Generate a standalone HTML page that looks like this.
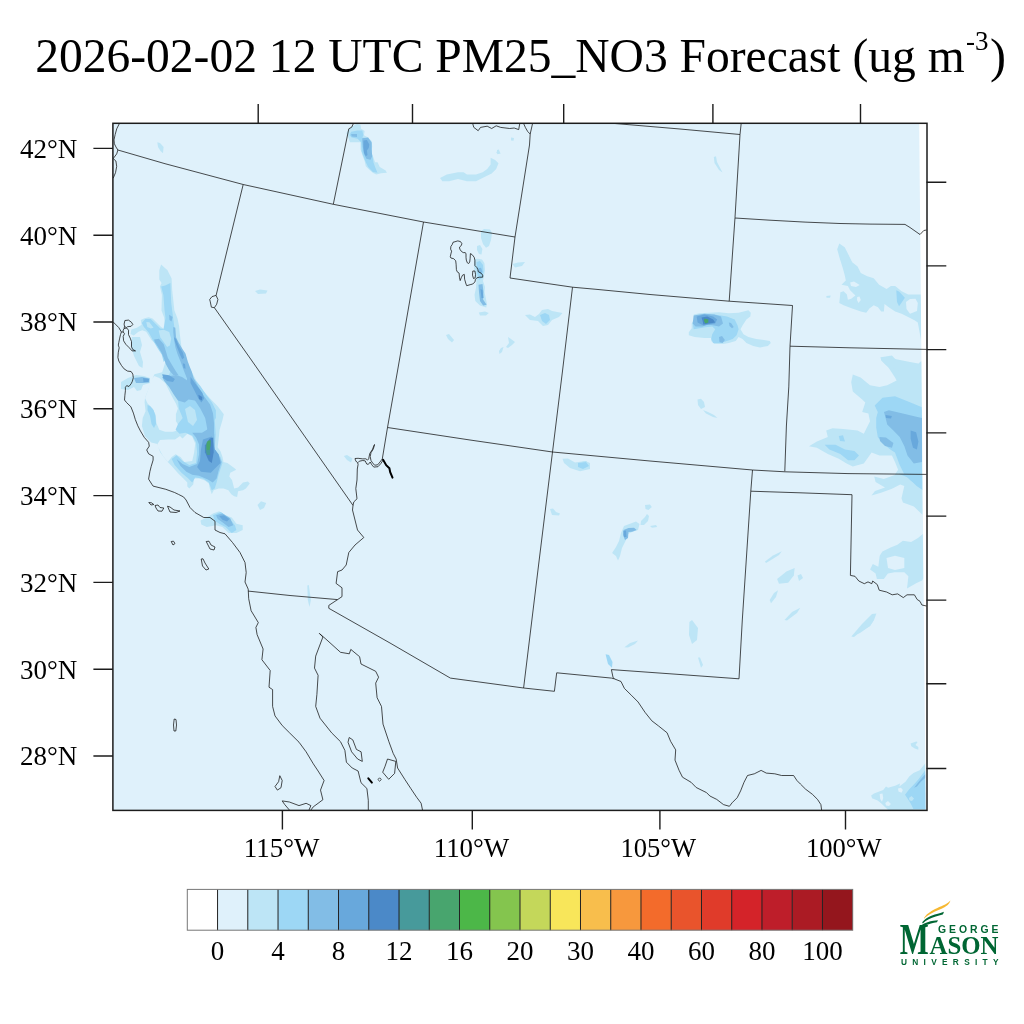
<!DOCTYPE html>
<html><head><meta charset="utf-8"><title>PM25_NO3 Forecast</title><style>
html,body{margin:0;padding:0;background:#fff;}
svg{display:block;}
text{font-family:"Liberation Serif","Times New Roman",serif;fill:#000;}
</style></head><body>
<svg width="1024" height="1024" viewBox="0 0 1024 1024">

<text x="35.2" y="71.6" font-size="48" textLength="929.5" lengthAdjust="spacingAndGlyphs">2026-02-02 12 UTC PM25_NO3 Forecast (ug m</text>
<text x="966" y="49.8" font-size="27">-3</text>
<text x="990" y="71.6" font-size="48">)</text>
<defs><clipPath id="mc"><rect x="113" y="123" width="814" height="687.5"/></clipPath></defs>
<rect x="113" y="123" width="814" height="687.5" fill="#dff1fb"/>
<g clip-path="url(#mc)">
<path d="M161.1 264.4 L167.5 270.2 L171.6 278.4 L172.2 290.2 L174.4 310.6 L177.5 318.4 L179.1 326.2 L179.8 334.0 L181.8 349.8 L186.6 357.6 L190.5 369.3 L196.4 381.0 L203.2 390.8 L210.1 398.6 L217.9 406.4 L223.8 414.2 L222.5 420.0 L219.6 429.8 L218.6 439.5 L217.6 447.3 L220.5 451.2 L222.5 457.1 L223.5 462.0 L227.4 463.0 L234.2 467.9 L236.2 469.8 L230.3 472.7 L229.3 476.6 L232.0 480.0 L234.2 488.4 L238.1 487.4 L243.0 482.5 L247.9 481.5 L249.8 483.5 L245.9 488.4 L243.0 490.3 L238.1 491.3 L237.1 497.1 L234.2 496.2 L231.3 494.2 L228.4 490.3 L223.5 488.4 L218.6 488.4 L213.7 490.3 L211.8 494.2 L209.8 488.4 L208.8 483.5 L204.9 480.5 L199.1 478.6 L194.2 478.6 L193.2 484.5 L189.3 488.4 L187.3 486.4 L187.3 482.5 L183.4 478.6 L177.6 472.7 L171.7 465.9 L167.8 462.0 L160.0 452.0 L157.5 444.0 L151.2 442.5 L145.0 436.2 L141.9 426.0 L142.7 418.1 L145.6 411.3 L144.6 402.5 L145.0 398.0 L154.4 374.2 L162.2 372.2 L165.2 362.5 L163.2 354.6 L159.3 347.8 L151.5 340.0 L146.2 331.7 L142.3 330.2 L138.4 331.7 L133.8 335.6 L130.6 334.0 L131.4 329.4 L136.9 327.8 L141.6 324.7 L140.8 320.0 L143.9 318.4 L148.6 317.3 L152.5 318.4 L161.1 327.0 L165.0 329.4 L164.2 317.7 L161.5 310.6 L161.9 295.0 L159.9 286.6 L161.6 283.1 L159.3 279.6 L159.3 270.2Z" fill="#bde5f6"/>
<path d="M154.4 376.0 L159.3 378.1 L165.2 383.0 L168.1 388.8 L172.0 396.6 L175.9 403.5 L177.9 408.4 L175.9 414.2 L175.9 421.0 L178.8 425.9 L179.8 429.8 L173.0 431.8 L165.2 431.8 L159.3 429.8 L156.4 423.0 L155.4 414.2 L152.5 408.4 L147.6 403.5 L145.0 398.0 L148.0 390.0 L151.0 380.0Z" fill="#dff1fb"/>
<path d="M160.0 440.0 L168.0 439.5 L175.0 439.5 L180.0 436.0 L182.5 438.5 L187.3 433.7 L192.2 436.6 L195.2 443.4 L194.2 452.2 L192.2 461.0 L184.4 462.0 L180.5 457.1 L175.6 454.2 L171.7 457.1 L167.8 462.0 L163.0 456.0 L158.0 447.0 L157.5 444.0Z" fill="#dff1fb"/>
<path d="M132.0 337.0 L140.0 337.0 L142.0 345.0 L140.0 352.0 L143.0 362.0 L142.5 368.0 L139.0 366.0 L134.0 356.0 L131.0 346.0Z" fill="#bde5f6"/>
<path d="M121.0 382.0 L128.0 378.0 L136.0 375.0 L144.0 376.0 L150.0 378.0 L150.0 383.0 L143.0 385.0 L141.0 390.0 L137.0 391.0 L134.0 387.0 L128.0 390.0 L121.0 389.0Z" fill="#bde5f6"/>
<path d="M134.0 378.0 L142.0 377.0 L149.5 378.5 L149.0 382.5 L143.0 383.0 L136.0 383.0Z" fill="#82bde6"/>
<path d="M143.0 378.0 L149.0 379.0 L148.5 382.0 L143.5 382.0Z" fill="#68a8dc"/>
<path d="M170.4 283.1 L171.2 302.8 L172.8 315.3 L174.4 327.8 L174.9 340.0 L180.8 351.7 L184.7 359.5 L188.6 368.3 L192.5 377.1 L200.3 385.9 L206.2 394.7 L212.0 402.5 L215.9 410.3 L215.9 418.1 L214.7 420.0 L215.7 434.6 L214.7 449.3 L220.5 457.1 L222.5 463.0 L220.5 468.8 L218.6 474.7 L216.6 482.5 L214.7 488.4 L211.8 490.3 L208.8 482.5 L203.0 478.6 L195.2 477.6 L192.2 482.5 L188.3 478.6 L181.5 472.7 L174.6 464.9 L171.7 459.1 L176.6 455.2 L182.5 461.0 L189.3 464.9 L196.1 463.0 L197.1 452.2 L196.1 442.5 L192.2 435.6 L185.4 432.7 L179.5 433.7 L175.6 429.8 L178.0 424.0 L182.7 418.1 L178.8 408.4 L177.9 398.6 L174.9 388.8 L173.0 381.0 L169.1 375.2 L171.0 369.3 L166.1 359.5 L163.7 361.9 L161.7 354.4 L157.6 348.3 L152.8 340.1 L148.7 332.6 L143.9 327.1 L141.8 323.0 L145.3 318.9 L150.7 318.9 L155.5 323.7 L160.3 328.5 L163.5 329.0 L165.5 318.0 L164.5 310.0 L163.4 295.0 L161.1 286.6 L165.2 285.5Z" fill="#9dd7f5"/>
<path d="M158.6 330.5 L163.7 329.8 L169.2 331.9 L171.2 338.7 L169.9 345.5 L167.1 346.9 L163.7 342.1 L160.3 337.3Z" fill="#bde5f6"/>
<path d="M146.3 322.0 L149.4 322.3 L153.5 327.8 L150.7 328.5 L147.3 327.1Z" fill="#bde5f6"/>
<path d="M185.0 409.0 L190.0 406.0 L195.0 410.0 L197.0 420.0 L193.0 426.0 L188.0 422.0Z" fill="#bde5f6"/>
<path d="M169.2 314.8 L172.6 317.0 L171.5 321.6 L169.5 320.0Z" fill="#82bde6"/>
<path d="M154.1 339.4 L158.9 338.7 L163.7 344.2 L165.8 351.0 L167.8 357.8 L171.9 364.7 L176.0 371.5 L178.7 375.6 L173.3 374.9 L169.2 370.2 L165.8 364.0 L163.7 357.8 L161.0 351.7 L157.6 346.2 L154.8 342.1Z" fill="#82bde6"/>
<path d="M173.3 327.1 L175.3 327.8 L176.0 337.3 L178.7 342.8 L182.8 349.6 L185.6 353.7 L187.6 361.3 L189.7 366.7 L191.7 371.5 L193.8 378.4 L198.4 386.9 L204.2 396.6 L210.1 404.5 L213.0 413.2 L214.0 423.0 L214.0 440.0 L208.1 440.0 L207.1 427.9 L205.2 418.1 L200.3 408.4 L196.0 402.0 L191.0 395.0 L187.0 386.0 L187.0 378.4 L184.2 371.5 L182.2 366.0 L180.1 360.6 L177.4 353.7 L175.3 346.9 L174.0 338.7 L173.3 332.6Z" fill="#82bde6"/>
<path d="M162.2 377.0 L170.0 376.0 L176.0 375.0 L182.0 377.0 L188.0 381.0 L194.0 388.0 L198.4 394.0 L200.0 399.0 L195.0 400.5 L188.6 399.5 L184.7 402.5 L177.9 400.5 L173.9 394.7 L169.1 386.9 L164.2 381.0Z" fill="#82bde6"/>
<path d="M147.5 405.0 L150.0 406.0 L153.5 410.0 L155.5 416.0 L156.0 424.0 L154.0 428.0 L151.5 424.0 L150.0 416.0 L147.5 410.0Z" fill="#9dd7f5"/>
<path d="M192.2 432.7 L202.0 432.7 L206.9 429.8 L212.7 424.9 L214.2 434.6 L214.7 449.3 L218.6 455.2 L221.5 462.0 L218.6 470.8 L216.6 478.6 L212.7 482.5 L207.9 479.6 L199.1 475.7 L192.2 474.7 L186.4 471.8 L180.5 465.9 L176.6 459.1 L182.5 463.9 L189.3 466.9 L197.1 463.9 L199.1 454.2 L199.1 444.4 L196.1 437.6Z" fill="#82bde6"/>
<path d="M162.2 374.2 L169.1 375.2 L174.9 379.1 L173.0 382.0 L167.1 381.0 L163.2 378.1Z" fill="#68a8dc"/>
<path d="M190.5 377.1 L196.4 384.9 L202.3 392.7 L204.2 398.6 L201.3 402.5 L198.4 398.6 L194.5 390.8 L190.5 383.0Z" fill="#68a8dc"/>
<path d="M174.0 337.3 L176.0 338.7 L179.4 346.9 L182.8 352.4 L184.2 357.8 L182.2 359.2 L180.1 355.1 L177.4 348.3 L175.0 342.1Z" fill="#68a8dc"/>
<path d="M182.8 363.3 L185.0 364.0 L185.6 368.8 L183.5 368.0Z" fill="#68a8dc"/>
<path d="M203.0 439.5 L211.8 436.6 L214.7 449.3 L218.6 454.2 L220.5 463.0 L214.7 468.8 L210.8 472.7 L201.0 471.8 L197.1 466.9 L200.0 461.0 L201.0 449.3Z" fill="#68a8dc"/>
<path d="M204.9 445.4 L209.8 438.6 L213.2 437.6 L213.7 452.2 L211.8 463.0 L208.8 461.0 L204.9 452.2Z" fill="#4b89c8"/>
<path d="M198.4 394.7 L202.3 397.0 L202.0 400.5 L199.0 399.0Z" fill="#4b89c8"/>
<path d="M205.4 447.5 L207.5 447.2 L210.1 447.5 L210.1 454.9 L207.0 454.9 L205.8 451.0Z" fill="#479a9b"/>
<path d="M206.9 442.0 L208.5 440.5 L210.7 440.3 L210.5 446.0 L209.5 450.0 L207.0 450.0 L206.2 446.0Z" fill="#48a56e"/>
<path d="M157.3 142.2 L160.0 143.0 L163.6 147.0 L163.0 153.2 L160.5 151.0 L158.0 147.0Z" fill="#bde5f6"/>
<path d="M255.0 291.0 L260.0 289.5 L267.5 290.5 L266.0 293.5 L258.0 294.0Z" fill="#bde5f6"/>
<path d="M200.5 520.6 L206.8 517.5 L213.0 513.6 L219.2 511.2 L225.5 515.2 L231.8 517.5 L236.4 523.8 L242.7 525.3 L242.7 530.0 L236.4 533.1 L228.6 533.1 L222.4 526.9 L216.1 525.3 L206.8 526.9 L201.3 524.5Z" fill="#bde5f6"/>
<path d="M213.0 515.2 L220.8 512.0 L228.6 517.5 L234.9 525.3 L236.4 530.0 L231.8 533.1 L225.5 526.9 L219.2 523.8 L214.6 520.6Z" fill="#9dd7f5"/>
<path d="M216.1 515.2 L222.4 513.6 L230.2 518.3 L233.3 525.3 L228.6 526.9 L222.4 522.2 L217.7 519.0Z" fill="#82bde6"/>
<path d="M219.2 516.0 L224.0 515.2 L229.4 519.0 L227.0 521.4 L222.4 519.8Z" fill="#68a8dc"/>
<path d="M257.5 505.0 L261.0 501.2 L266.2 503.0 L264.0 508.0 L260.0 510.0Z" fill="#bde5f6"/>
<path d="M343.8 456.0 L347.0 455.0 L352.5 458.5 L351.0 462.5 L347.0 460.0Z" fill="#bde5f6"/>
<path d="M307.3 585.6 L308.8 585.0 L310.9 600.0 L309.5 607.1 L307.8 600.0Z" fill="#bde5f6"/>
<path d="M357.0 124.1 L360.5 124.7 L361.1 128.8 L364.6 131.1 L364.0 135.2 L368.1 137.6 L371.6 141.1 L372.2 146.4 L371.6 152.8 L373.4 157.5 L375.1 162.2 L377.5 162.2 L379.8 166.9 L385.7 170.4 L386.9 172.7 L381.0 173.3 L376.3 174.5 L372.8 172.7 L369.3 169.8 L365.8 166.3 L364.6 161.0 L362.3 155.1 L360.5 149.3 L360.5 142.3 L354.6 142.3 L350.0 142.3 L348.8 138.7 L346.4 132.9 L349.4 128.8 L352.9 125.9Z" fill="#bde5f6"/>
<path d="M351.1 131.7 L357.6 130.5 L362.3 130.5 L363.4 135.2 L362.3 137.6 L367.5 138.2 L371.6 143.4 L371.6 152.8 L372.8 157.5 L373.4 162.2 L375.1 166.9 L377.5 172.7 L372.8 172.1 L368.1 166.9 L365.8 162.2 L363.4 156.3 L361.7 151.6 L361.1 142.3 L357.6 138.7 L351.7 137.6 L349.4 135.2Z" fill="#9dd7f5"/>
<path d="M351.1 134.1 L357.0 134.1 L357.0 137.0 L351.7 136.4Z" fill="#82bde6"/>
<path d="M362.3 138.2 L368.1 137.6 L371.6 142.3 L371.6 149.3 L372.2 156.3 L370.5 159.8 L366.4 158.7 L364.0 154.0 L362.8 146.9 L362.3 141.1Z" fill="#82bde6"/>
<path d="M363.4 140.5 L366.9 139.9 L369.3 144.6 L368.7 148.1 L366.9 150.5 L367.5 155.1 L365.8 156.3 L364.0 152.8 L363.4 146.9Z" fill="#68a8dc"/>
<path d="M440.0 177.9 L446.8 174.5 L458.0 172.3 L463.6 172.3 L467.0 174.5 L476.0 174.5 L482.7 172.3 L487.2 168.9 L490.6 164.4 L490.6 157.7 L495.1 160.0 L498.5 163.3 L496.2 168.9 L491.7 173.4 L485.0 176.8 L476.0 181.3 L467.0 181.3 L458.0 179.0 L449.0 181.3 L442.3 181.3Z" fill="#bde5f6"/>
<path d="M496.2 152.0 L499.0 151.0 L500.7 153.5 L497.5 154.3Z" fill="#bde5f6"/>
<path d="M511.0 137.5 L514.0 138.0 L513.5 140.8 L511.0 140.5Z" fill="#bde5f6"/>
<path d="M481.0 231.0 L484.0 229.0 L490.0 229.5 L492.0 233.0 L491.0 240.0 L489.0 246.0 L486.0 247.8 L483.0 244.0 L481.0 238.0Z" fill="#bde5f6"/>
<path d="M477.0 246.0 L480.0 245.0 L482.4 249.0 L481.5 254.6 L479.0 254.0 L477.0 250.0Z" fill="#bde5f6"/>
<path d="M474.5 259.0 L478.0 258.7 L482.0 259.5 L484.4 263.0 L485.0 270.0 L484.0 276.0 L483.0 281.0 L485.0 287.0 L484.5 292.0 L487.0 304.0 L486.2 307.5 L480.0 305.6 L475.3 300.9 L474.5 294.7 L476.0 288.0 L476.5 281.0 L474.9 275.0 L474.0 267.0Z" fill="#bde5f6"/>
<path d="M476.5 262.0 L480.0 261.0 L483.0 265.0 L483.5 272.0 L482.0 278.0 L479.0 280.0 L477.0 273.0Z" fill="#9dd7f5"/>
<path d="M478.3 268.3 L481.0 267.8 L482.4 271.5 L481.5 273.7 L479.0 272.5Z" fill="#82bde6"/>
<path d="M478.5 284.7 L482.5 284.0 L483.5 292.0 L483.1 299.4 L486.6 304.8 L483.1 305.6 L480.0 300.9 L479.0 292.0Z" fill="#82bde6"/>
<path d="M480.5 289.0 L482.5 290.0 L483.5 298.0 L481.5 298.0Z" fill="#68a8dc"/>
<path d="M478.8 312.5 L485.0 311.5 L488.8 313.0 L486.0 315.5 L480.0 315.5Z" fill="#bde5f6"/>
<path d="M525.0 315.0 L530.0 314.5 L535.0 317.0 L539.0 314.0 L542.0 310.0 L548.0 309.0 L552.0 311.0 L562.5 313.0 L559.0 317.0 L552.0 320.0 L548.0 325.0 L543.0 326.0 L538.0 321.0 L530.0 320.0Z" fill="#bde5f6"/>
<path d="M540.0 315.0 L545.0 313.0 L549.0 315.0 L550.0 320.0 L546.0 324.0 L542.0 321.0Z" fill="#9dd7f5"/>
<path d="M446.0 335.0 L449.0 334.0 L454.0 340.0 L452.0 342.5 L448.0 339.0Z" fill="#bde5f6"/>
<path d="M508.0 337.0 L511.0 339.0 L515.0 342.0 L512.0 345.0 L508.0 348.0 L506.0 347.0 L509.0 343.0Z" fill="#bde5f6"/>
<path d="M501.0 348.0 L503.5 347.0 L502.0 352.0 L499.5 354.0 L499.0 351.0Z" fill="#bde5f6"/>
<path d="M512.5 264.0 L518.0 262.5 L525.0 262.0 L522.0 266.0 L515.0 267.5Z" fill="#bde5f6"/>
<path d="M497.0 150.0 L499.0 149.5 L499.5 152.0 L497.0 152.0Z" fill="#bde5f6"/>
<path d="M693.7 314.6 L699.5 313.2 L709.3 312.7 L719.0 312.2 L728.8 313.2 L738.6 312.7 L748.4 310.3 L750.8 312.7 L750.3 316.6 L746.4 319.5 L742.5 325.4 L740.5 329.3 L743.5 334.2 L748.4 337.1 L756.2 339.1 L764.0 340.0 L769.8 341.0 L770.8 343.0 L767.9 345.9 L760.0 347.4 L753.2 345.9 L746.4 343.0 L742.5 339.1 L738.6 337.1 L735.7 341.0 L728.8 343.0 L723.0 344.0 L714.2 344.0 L711.2 341.0 L711.2 338.1 L704.4 338.1 L694.6 337.1 L688.8 335.2 L688.8 332.2 L691.7 328.3 L691.7 323.4 L693.7 319.5Z" fill="#bde5f6"/>
<path d="M746.8 330.5 L749.5 329.3 L752.3 331.5 L750.5 334.2 L747.5 333.5Z" fill="#dff1fb"/>
<path d="M692.7 323.4 L694.6 318.6 L704.4 315.6 L714.2 314.6 L721.0 315.6 L726.9 316.6 L734.7 319.5 L737.6 325.4 L738.6 329.3 L736.6 335.2 L732.7 339.1 L726.9 341.0 L721.0 343.0 L713.2 343.0 L711.2 339.1 L712.2 334.2 L715.2 329.3 L712.2 326.4 L705.4 327.3 L699.5 328.3 L693.7 329.3Z" fill="#9dd7f5"/>
<path d="M693.7 315.6 L704.4 313.7 L714.2 314.6 L721.0 316.6 L723.0 323.4 L719.0 326.4 L714.2 325.4 L708.3 324.4 L702.5 326.4 L695.6 326.4 L692.7 323.4Z" fill="#82bde6"/>
<path d="M719.0 337.0 L722.0 336.1 L724.9 340.0 L722.5 343.0 L719.5 342.0Z" fill="#82bde6"/>
<path d="M728.8 322.5 L731.0 323.0 L733.7 327.0 L732.0 328.3 L729.5 326.0Z" fill="#82bde6"/>
<path d="M696.6 316.6 L704.4 314.6 L713.2 316.6 L717.1 319.5 L715.2 323.4 L709.3 324.4 L703.4 325.4 L697.6 322.5Z" fill="#68a8dc"/>
<path d="M701.5 317.6 L707.3 316.6 L713.2 319.5 L715.2 322.5 L709.3 323.4 L703.4 324.4 L702.5 320.5Z" fill="#4b89c8"/>
<path d="M704.4 318.6 L708.3 319.5 L708.3 322.5 L705.4 323.4 L703.9 321.0Z" fill="#48a56e"/>
<path d="M713.8 157.0 L716.0 156.2 L717.0 162.0 L722.5 172.5 L719.0 170.0 L714.5 163.0Z" fill="#bde5f6"/>
<path d="M697.5 399.5 L701.0 398.8 L704.0 402.0 L705.0 407.0 L701.0 409.0 L698.0 405.0Z" fill="#bde5f6"/>
<path d="M703.0 410.0 L708.0 412.0 L714.0 415.0 L717.5 418.0 L713.0 417.0 L706.0 413.5Z" fill="#bde5f6"/>
<path d="M580.0 462.5 L586.0 461.0 L590.0 466.0 L585.0 470.0 L580.0 468.0Z" fill="#9dd7f5"/>
<path d="M645.0 505.0 L650.0 504.4 L651.8 507.0 L648.5 509.9 L645.5 509.0Z" fill="#bde5f6"/>
<path d="M641.0 521.0 L645.0 517.0 L647.0 514.0 L649.0 516.0 L648.0 521.0 L644.0 525.0 L640.5 525.0Z" fill="#bde5f6"/>
<path d="M650.0 526.0 L656.0 525.0 L657.2 527.0 L652.0 527.7Z" fill="#bde5f6"/>
<path d="M624.0 526.0 L632.0 523.0 L636.0 521.5 L639.5 524.0 L638.0 530.0 L632.0 532.0 L628.0 534.0 L626.0 540.0 L622.0 548.0 L620.0 556.0 L618.0 560.5 L616.0 556.0 L612.1 553.0 L616.0 547.0 L619.0 541.0 L621.0 533.0Z" fill="#bde5f6"/>
<path d="M623.5 530.0 L626.0 529.0 L628.5 528.0 L634.0 527.7 L636.7 530.0 L632.0 531.8 L628.5 532.0 L628.0 538.0 L625.0 540.0 L623.0 535.0Z" fill="#82bde6"/>
<path d="M623.5 531.0 L626.0 530.5 L626.5 537.0 L624.0 537.0Z" fill="#68a8dc"/>
<path d="M562.5 458.8 L568.0 458.5 L575.0 462.5 L585.0 461.0 L590.0 463.0 L590.0 469.0 L580.0 471.2 L570.0 468.0 L564.0 463.0Z" fill="#bde5f6"/>
<path d="M578.0 463.0 L586.0 462.0 L589.0 466.0 L583.0 469.0 L578.0 467.0Z" fill="#9dd7f5"/>
<path d="M550.0 509.0 L553.0 508.5 L556.0 512.0 L560.0 513.5 L559.0 515.5 L552.0 515.0Z" fill="#bde5f6"/>
<path d="M765.0 561.4 L773.0 555.5 L781.8 551.2 L779.0 555.0 L771.0 560.0 L766.0 563.0Z" fill="#bde5f6"/>
<path d="M777.1 579.0 L786.4 571.6 L794.7 568.0 L793.8 575.4 L788.2 582.8 L779.0 583.7Z" fill="#bde5f6"/>
<path d="M797.5 575.4 L801.0 574.0 L803.0 578.0 L799.0 581.0Z" fill="#bde5f6"/>
<path d="M769.7 600.0 L774.0 593.0 L778.0 590.2 L776.0 597.0 L771.0 603.2Z" fill="#bde5f6"/>
<path d="M784.5 619.9 L792.0 612.0 L800.3 607.8 L797.0 613.0 L787.0 620.5Z" fill="#bde5f6"/>
<path d="M851.3 636.6 L862.0 624.0 L872.0 614.0 L876.4 613.4 L874.0 620.0 L864.0 629.0 L854.0 637.0Z" fill="#bde5f6"/>
<path d="M853.4 635.4 L862.0 627.0 L873.9 620.0 L870.0 626.0 L860.0 633.0Z" fill="#bde5f6"/>
<path d="M689.4 622.0 L692.0 620.0 L698.0 628.0 L697.0 640.0 L692.0 644.0 L689.0 635.0Z" fill="#bde5f6"/>
<path d="M624.4 647.3 L630.0 643.0 L638.1 640.5 L635.0 644.0 L628.0 647.5Z" fill="#bde5f6"/>
<path d="M605.6 654.2 L609.0 655.0 L612.5 662.0 L612.0 667.8 L608.0 664.0Z" fill="#9dd7f5"/>
<path d="M698.0 657.6 L700.0 657.6 L703.0 665.0 L701.0 667.8Z" fill="#bde5f6"/>
<path d="M853.4 635.4 L860.0 628.0 L868.0 622.0 L873.9 620.0 L870.0 626.0Z" fill="#bde5f6"/>
<path d="M871.2 795.5 L874.0 793.4 L883.2 789.9 L886.0 786.4 L888.1 787.8 L895.1 785.7 L900.0 783.6 L899.4 786.4 L905.7 781.5 L909.2 776.5 L913.4 773.0 L919.7 770.2 L925.4 763.2 L927.0 762.0 L927.0 810.0 L888.1 810.0 L881.1 803.2 L877.6 800.4 L872.0 798.3Z" fill="#bde5f6"/>
<path d="M898.0 788.5 L901.0 787.8 L902.9 790.0 L901.5 792.7 L898.5 791.5Z" fill="#dff1fb"/>
<path d="M879.7 794.0 L882.5 793.4 L883.2 798.0 L882.0 801.8 L880.2 799.0Z" fill="#dff1fb"/>
<path d="M885.3 803.0 L888.0 801.1 L890.9 804.0 L889.0 806.0 L886.0 805.5Z" fill="#dff1fb"/>
<path d="M905.0 794.8 L909.2 789.2 L913.4 785.0 L918.3 779.4 L923.2 773.0 L927.0 768.0 L927.0 809.0 L913.4 809.0 L910.6 803.2 L907.8 799.0Z" fill="#9dd7f5"/>
<path d="M909.0 798.0 L911.5 796.0 L914.0 798.5 L912.0 801.0 L909.5 800.5Z" fill="#bde5f6"/>
<path d="M914.1 787.8 L918.3 782.2 L923.2 776.5 L927.0 772.5 L927.0 776.5 L921.1 781.5 L916.9 786.4Z" fill="#82bde6"/>
<path d="M910.6 743.5 L916.2 741.4 L917.6 742.1 L915.5 744.9 L918.3 747.0 L918.3 749.8 L914.8 748.4 L911.3 746.3Z" fill="#bde5f6"/>
<path d="M839.3 243.4 L844.7 247.2 L847.9 253.6 L852.2 262.2 L857.6 266.5 L860.8 273.0 L867.3 276.2 L873.7 278.3 L879.1 284.8 L886.6 289.1 L890.9 285.9 L895.2 285.9 L901.6 291.2 L908.1 294.5 L921.0 294.5 L921.0 340.0 L917.8 322.4 L914.5 320.2 L908.1 317.0 L901.6 313.8 L895.2 311.6 L888.8 307.3 L884.5 304.1 L883.9 311.6 L881.2 311.6 L878.0 307.3 L873.7 305.2 L869.4 308.4 L866.2 312.7 L860.8 311.6 L852.2 308.4 L843.6 305.2 L839.3 303.0 L840.4 292.3 L843.6 291.2 L846.9 294.5 L847.9 299.8 L851.2 298.8 L855.4 295.5 L850.1 290.2 L847.9 285.9 L841.5 284.8 L845.8 280.5 L844.7 275.1 L842.6 267.6 L839.3 256.9 L837.2 249.3Z" fill="#bde5f6"/>
<path d="M850.1 282.5 L854.0 281.6 L859.7 285.0 L856.0 286.9 L851.0 286.0Z" fill="#dff1fb"/>
<path d="M857.2 297.0 L859.5 296.6 L860.8 300.0 L858.5 303.0 L857.0 300.0Z" fill="#dff1fb"/>
<path d="M906.0 302.0 L910.0 299.0 L915.5 298.8 L917.8 303.0 L917.0 311.0 L910.0 313.8 L906.5 309.0Z" fill="#dff1fb"/>
<path d="M896.3 290.2 L899.0 291.5 L904.9 297.7 L901.0 303.5 L899.0 306.3 L897.0 302.0Z" fill="#9dd7f5"/>
<path d="M826.4 296.0 L830.7 295.5 L830.0 297.7 L826.5 297.7Z" fill="#bde5f6"/>
<path d="M881.0 357.2 L891.9 355.6 L898.1 361.9 L906.0 366.6 L915.3 368.1 L920.0 361.9 L922.0 361.0 L922.5 514.7 L913.9 506.5 L902.9 502.4 L901.5 498.3 L904.3 486.0 L900.2 484.6 L892.0 488.7 L881.0 492.8 L871.5 495.6 L875.0 491.0 L885.0 487.4 L875.6 481.9 L874.2 476.4 L883.8 479.1 L894.7 475.0 L898.1 469.7 L895.0 461.9 L891.9 455.6 L879.4 455.6 L871.6 452.5 L863.8 463.4 L852.8 466.6 L846.6 463.4 L838.8 458.8 L827.8 454.0 L816.9 447.8 L809.0 446.2 L816.9 441.6 L827.8 436.9 L826.2 430.6 L832.5 428.3 L843.4 429.0 L857.5 430.6 L863.8 433.8 L870.0 421.2 L868.4 413.4 L862.2 411.9 L865.3 402.5 L862.2 399.4 L852.8 391.6 L851.2 382.2 L852.8 374.4 L860.6 377.5 L870.0 385.3 L879.4 386.9 L887.2 385.3 L896.6 380.6 L895.0 377.5 L888.8 368.1 L881.0 360.3Z" fill="#bde5f6"/>
<path d="M922.8 533.9 L918.0 538.0 L911.1 542.1 L902.9 540.7 L897.4 544.8 L890.6 547.5 L882.4 551.6 L879.7 555.7 L878.3 566.7 L872.8 564.0 L870.1 569.4 L875.6 573.5 L876.9 579.0 L883.8 579.0 L887.9 573.5 L894.7 572.2 L904.3 572.2 L908.4 576.3 L907.0 588.6 L916.6 583.1 L922.1 580.4 L923.5 578.0Z" fill="#bde5f6"/>
<path d="M886.5 558.0 L895.0 555.7 L904.3 558.0 L904.3 568.0 L895.0 570.0 L888.0 568.0Z" fill="#dff1fb"/>
<path d="M898.8 473.7 L908.4 477.8 L916.6 486.0 L922.5 490.1 L922.5 474.0Z" fill="#9dd7f5"/>
<path d="M874.7 405.6 L882.5 397.8 L895.0 396.2 L910.6 402.5 L922.0 407.2 L922.0 488.4 L910.6 480.6 L904.4 474.4 L899.7 465.0 L895.0 452.5 L890.3 449.4 L882.5 443.1 L877.8 436.9 L876.2 427.5 L876.2 418.1 L877.8 411.9Z" fill="#9dd7f5"/>
<path d="M824.7 444.7 L835.6 444.7 L845.0 449.4 L854.4 451.0 L859.0 455.6 L854.4 460.3 L848.1 460.3 L840.3 454.0 L829.4 449.4Z" fill="#9dd7f5"/>
<path d="M838.8 436.0 L843.0 435.3 L845.0 441.6 L840.0 441.0Z" fill="#9dd7f5"/>
<path d="M884.0 411.9 L888.8 410.3 L902.8 413.4 L915.3 416.6 L922.0 418.0 L922.0 461.9 L913.8 463.4 L907.5 455.6 L904.4 446.2 L899.7 436.9 L893.4 430.6 L887.2 424.4 L885.6 418.1Z" fill="#82bde6"/>
<path d="M879.4 437.0 L886.0 437.5 L893.4 443.0 L892.0 447.8 L885.0 446.0 L880.0 441.0Z" fill="#82bde6"/>
<path d="M910.6 430.6 L916.1 432.2 L918.4 441.6 L916.9 449.4 L913.0 447.8 L910.6 438.4Z" fill="#68a8dc"/>
<path d="M885.6 415.0 L891.9 416.0 L891.0 418.5 L886.0 418.1Z" fill="#68a8dc"/>
<path d="M880.0 357.5 L890.0 358.0 L900.0 360.0 L910.0 362.0 L921.0 364.0 L921.0 371.0 L900.0 371.0 L885.0 364.0Z" fill="#bde5f6"/>
<polygon points="919.2,123 927,123 927,810 925.7,810" fill="#fff"/>
<g fill="none" stroke="#111" stroke-width="0.75" stroke-linejoin="round">
<path d="M117.9 150.0 L165.0 163.7 L243.2 184.5 L333.3 204.3 L423.5 222.0 L515.0 237.0"/>
<path d="M515.0 237.0 L529.5 145.0 L530.2 134.0 L532.6 123.3"/>
<path d="M472.6 123.3 L473.8 127.4 L478.2 130.7 L480.5 127.4 L487.2 126.2 L491.7 128.5 L496.2 125.8 L500.7 127.4 L509.7 128.5 L514.2 128.0 L518.7 129.6 L519.8 123.3"/>
<path d="M523.5 123.3 L525.4 127.5 L527.7 131.5 L530.2 134.0"/>
<path d="M333.3 204.3 L348.8 128.8 L351.7 127.2 L353.5 123.3"/>
<path d="M243.2 184.5 L216.1 295.4"/>
<path d="M214.4 307.7 L250.0 358.1 L353.0 505.4"/>
<path d="M423.5 222.0 L397.5 371.0 L387.5 427.5 L382.3 458.9"/>
<path d="M515.0 237.0 L510.0 278.0 L541.0 282.6 L572.5 287.2 L596.0 289.3 L650.0 294.5 L729.2 301.2 L792.5 305.5"/>
<path d="M572.5 287.2 L562.5 371.0 L552.5 452.0 L539.2 560.0 L523.6 688.0"/>
<path d="M387.5 427.5 L470.0 440.0 L552.5 452.0 L650.0 461.0 L752.5 470.0 L785.0 471.8 L848.0 473.6 L926.5 474.4"/>
<path d="M741.2 123.3 L740.0 134.5 L735.0 217.5 L729.2 301.2"/>
<path d="M612.5 123.3 L680.0 129.0 L740.0 134.5"/>
<path d="M735.0 218.0 L770.0 220.2 L805.0 222.1 L840.0 223.5 L870.0 224.1 L905.0 224.4 L910.0 227.5 L920.0 234.5 L923.8 230.5 L926.5 230.0"/>
<path d="M792.5 305.5 L790.0 346.2 L788.8 386.9 L786.4 426.0 L784.8 471.2"/>
<path d="M790.0 346.2 L850.0 347.8 L926.5 349.4"/>
<path d="M752.5 470.0 L750.8 491.2 L742.3 620.0 L739.0 678.8"/>
<path d="M750.8 491.2 L800.0 492.8 L852.0 494.7"/>
<path d="M852.0 494.7 L850.4 575.4"/>
<path d="M850.4 575.4 L855.0 576.3 L858.8 581.0 L864.3 583.7 L868.0 581.9 L871.8 583.7 L872.7 581.0 L877.3 584.6 L879.2 590.2 L886.6 592.0 L892.2 594.8 L897.7 593.9 L903.3 597.6 L907.0 594.8 L914.4 594.8 L917.2 599.5 L920.0 601.3 L921.9 605.0 L926.5 606.0"/>
<path d="M611.4 669.6 L680.0 674.5 L739.0 678.8"/>
<path d="M248.2 591.1 L290.0 595.5 L337.6 599.6"/>
<path d="M337.6 599.6 L328.8 605.4 L328.8 608.3 L390.0 643.0 L450.4 678.1 L523.6 688.0 L554.4 691.3 L556.7 672.8 L611.5 678.1 L614.2 678.8"/>
<path d="M611.4 669.6 L613.0 677.2 L614.2 678.8"/>
<path d="M614.2 678.8 L621.0 681.5 L624.4 688.4 L631.3 695.2 L638.1 702.0 L645.0 712.3 L651.8 720.8 L658.6 726.0 L667.1 732.8 L670.6 741.3 L675.7 749.9 L675.0 760.1 L679.1 770.4 L682.5 777.2 L691.1 782.3 L696.2 787.5 L706.5 792.6 L709.9 796.0 L716.7 799.4 L723.5 804.6 L729.4 806.3 L732.1 802.8 L737.2 797.7 L740.6 790.9 L744.0 782.3 L747.5 775.5 L754.3 773.8 L761.1 770.4 L766.3 773.1 L774.8 773.8 L781.6 775.5 L793.6 775.5 L797.0 780.6 L800.4 784.0 L805.6 789.2 L812.4 794.3 L817.5 799.4 L820.9 804.6 L821.6 810.0"/>
<path d="M353.0 505.4 L352.5 510.0 L355.0 520.0 L357.5 530.0 L363.8 537.5 L355.0 545.0 L348.8 552.5 L346.2 565.0 L342.0 570.0 L337.6 571.7 L336.1 583.4 L342.0 587.8 L342.0 596.6 L337.6 599.6"/>
<path d="M357.7 462.8 L358.1 464.4 L357.3 469.0 L357.0 480.0 L355.8 488.6 L357.0 498.8 L353.8 501.9 L353.0 505.4"/>
<path d="M382.3 458.9 L380.0 462.0 L377.7 464.8 L374.9 465.2 L373.0 463.6 L371.0 460.5 L370.2 456.6 L371.0 452.7 L373.4 448.8 L374.5 444.5 L372.2 449.9 L369.8 453.4 L369.1 456.6 L368.7 458.9 L367.5 460.1 L365.9 458.8 L362.8 458.9 L358.1 458.3 L355.0 458.5 L355.4 460.1 L356.6 462.0 L357.7 462.8 L359.3 461.2 L362.8 460.5 L365.2 460.9 L366.7 464.0 L368.3 464.4 L370.2 462.0 L371.8 464.8 L373.8 467.1 L378.0 466.7 L380.8 463.6 L383.1 460.1"/>
<path d="M119.5 123.3 L116.7 128.9 L115.2 134.4 L114.0 139.9 L114.4 143.8 L115.9 146.9 L117.9 150.0 L116.7 153.9 L113.2 158.6 L115.9 161.0 L116.7 166.4 L115.5 172.7 L113.2 178.2"/>
<path d="M113.1 321.9 L115.3 324.1 L118.8 327.6 L121.4 332.0 L120.5 334.6 L119.7 338.1 L118.8 342.5 L118.3 345.1 L119.2 347.8 L118.3 352.2 L117.9 357.5 L118.8 361.0 L121.4 365.4 L124.1 368.9 L127.6 371.1 L131.1 371.5 L132.8 374.1 L133.3 377.7 L132.4 381.2 L131.1 383.8 L128.9 386.5 L126.7 385.6 L125.4 387.3 L125.4 390.8 L124.9 395.2 L124.5 400.0 L126.5 402.5 L130.9 406.8 L133.4 413.1 L135.3 419.5 L137.8 425.8 L140.4 430.9 L144.2 437.3 L148.6 442.3 L149.3 446.1 L146.7 450.0 L148.6 453.8 L153.1 456.3 L153.1 460.1 L151.2 466.4 L149.9 471.5 L148.6 479.1 L151.8 484.2 L153.1 486.1 L165.8 489.3 L174.6 492.5 L178.5 494.4 L183.5 496.9 L186.1 500.0 L190.0 507.5 L195.0 512.5 L203.8 517.5 L210.0 517.5 L215.0 521.2 L215.0 530.0 L220.0 532.5 L225.0 533.8 L232.5 542.5 L240.0 552.5 L245.0 562.5 L246.2 572.5 L245.0 582.0 L248.2 589.1 L248.7 598.7 L251.1 610.7 L258.3 622.6 L255.9 627.4 L257.1 634.6 L263.1 649.0 L261.9 659.7 L270.2 670.5 L269.0 687.2 L272.6 689.6 L272.6 706.4 L275.0 715.9 L282.2 725.5 L289.4 732.7 L299.0 742.2 L306.1 751.8 L313.3 763.8 L318.1 771.0 L324.1 780.5 L320.5 790.1 L322.9 799.7 L318.1 803.3 L313.3 806.8 L310.9 810.0"/>
<path d="M124.5 326.3 L124.1 328.5"/>
<path d="M121.4 332.0 L123.2 332.0"/>
<path d="M282.2 800.9 L289.4 802.0 L299.0 805.6 L306.1 803.3 L310.9 805.6 L309.0 810.0"/>
<path d="M282.2 800.9 L284.6 804.4 L289.4 810.0"/>
<path d="M319.3 633.4 L322.9 637.0 L315.7 656.1 L314.5 668.1 L318.1 675.3 L316.9 694.4 L315.7 706.4 L320.0 718.2 L331.7 732.9 L340.5 741.7 L344.9 750.4 L346.4 762.2 L352.2 768.0 L358.1 771.0 L361.0 782.7 L366.9 788.5 L368.3 800.3 L368.3 810.0"/>
<path d="M319.3 633.4 L325.9 639.1 L340.5 652.3 L349.3 653.8 L350.8 649.4 L359.6 656.7 L361.0 664.0 L375.7 671.3 L378.6 677.2 L375.7 683.1 L377.1 697.7 L381.5 706.5 L383.0 724.1 L388.9 741.7 L393.2 753.4 L396.2 759.2 L397.6 768.0 L405.0 779.7 L410.8 788.5 L416.7 797.3 L421.1 803.2 L422.5 810.0"/>
<path d="M124.9 320.5 L128.5 320.1 L131.5 322.3 L132.8 324.5 L131.1 326.3 L127.6 326.7 L126.3 327.6 L124.5 326.3 L124.1 324.1Z"/>
<path d="M123.2 330.2 L124.1 328.5 L126.7 328.0 L128.5 330.2 L128.5 334.6 L130.2 338.1 L131.5 341.6 L131.5 346.9 L132.8 349.5 L135.5 350.9 L132.0 350.9 L129.3 347.8 L125.8 344.3 L123.6 340.8 L123.2 336.4 L124.5 333.7 L123.2 332.0Z"/>
<path d="M216.1 295.4 L217.9 299.5 L216.7 304.2 L214.4 307.7 L211.4 307.2 L210.3 301.9 L209.7 299.5 L212.0 296.6Z"/>
<path d="M453.0 242.3 L457.8 240.9 L460.5 241.6 L461.9 243.7 L461.2 245.7 L459.5 247.1 L459.8 249.1 L461.2 251.2 L463.2 252.6 L465.3 252.6 L466.0 253.9 L466.0 257.3 L466.3 260.1 L467.3 262.8 L468.7 263.5 L469.7 262.1 L470.1 258.7 L470.4 253.6 L472.1 254.6 L474.2 257.3 L474.9 260.1 L474.9 265.5 L476.9 267.6 L477.9 269.6 L478.3 271.7 L481.0 273.1 L482.7 275.1 L482.7 277.2 L479.6 277.2 L476.9 277.8 L475.5 279.2 L474.9 281.9 L472.8 284.0 L470.1 284.7 L466.7 285.7 L466.0 284.0 L464.6 279.2 L464.3 274.4 L462.6 275.1 L461.2 277.8 L460.2 280.6 L459.5 277.8 L459.1 273.1 L457.1 271.7 L456.4 269.6 L456.1 264.2 L455.7 260.8 L453.7 258.7 L450.9 258.0 L450.3 256.7 L450.9 253.9 L451.6 251.2 L450.6 249.1 L450.9 246.4 L452.3 244.4Z"/>
<path d="M472.8 271.0 L474.9 271.0 L475.5 274.4 L475.2 277.8 L473.5 278.5 L472.5 275.1Z"/>
<path d="M148.8 502.5 L151.5 502.8 L153.8 504.5 L151.0 505.0Z"/>
<path d="M155.0 505.5 L158.0 505.0 L160.0 507.5 L163.8 508.0 L162.0 511.2 L158.0 511.0 L156.0 508.0Z"/>
<path d="M167.5 506.2 L170.0 507.0 L174.0 510.0 L180.0 511.0 L176.0 512.5 L170.0 512.0Z"/>
<path d="M171.2 541.5 L173.5 541.2 L175.0 543.5 L173.0 545.0Z"/>
<path d="M206.2 541.5 L209.0 541.2 L211.0 545.0 L215.0 547.0 L214.0 550.0 L210.0 549.0 L208.0 545.0Z"/>
<path d="M201.2 559.0 L203.0 558.8 L205.0 563.0 L208.8 569.0 L206.0 570.0 L202.5 566.0Z"/>
<path d="M174.2 719.0 L176.0 719.5 L176.5 725.0 L175.8 731.0 L174.0 731.0 L173.5 725.0Z"/>
<path d="M279.8 775.7 L282.2 780.5 L281.0 787.7 L277.4 790.1 L275.0 786.5 L278.6 781.7Z"/>
<path d="M349.2 737.5 L352.8 739.9 L356.4 749.4 L361.1 751.8 L362.3 761.4 L357.6 759.0 L351.6 751.8 L348.0 742.2Z"/>
<path d="M387.5 759.0 L395.8 761.4 L394.6 773.4 L388.7 779.3 L382.7 772.2 L385.1 766.2Z"/>
<path d="M379.6 777.8 L381.3 779.5 L379.6 781.2 L377.9 779.5Z"/>
</g><g fill="none" stroke="#000" stroke-width="2" stroke-linecap="round">
<path d="M383.1 459.7 L386.2 465.2 L389.4 468.3 L390.2 472.2 L392.5 477.7"/>
<path d="M368.3 778.3 L371.9 782.6"/>
</g></g>
<rect x="112.9" y="123.3" width="814.1" height="687.1" fill="none" stroke="#1c1c1c" stroke-width="1.5"/>
<g stroke="#1c1c1c" stroke-width="1.4">
<path d="M258.2 123V104M412.5 123V104M563.7 123V104M712.9 123V104M860.5 123V104"/>
<path d="M282.4 810V829.5M472.3 810V829.5M659.9 810V829.5M845.5 810V829.5"/>
<path d="M93.4 148.4H113M93.4 235.2H113M93.4 322H113M93.4 408.8H113M93.4 495.6H113M93.4 582.4H113M93.4 669.2H113M93.4 756H113"/>
<path d="M926.5 182.2H946.3M926.5 265.9H946.3M926.5 349.6H946.3M926.5 432.9H946.3M926.5 516.1H946.3M926.5 600.1H946.3M926.5 683.8H946.3M926.5 768.5H946.3"/>
</g>
<g font-size="27">
<text x="20" y="157.7">42°N</text>
<text x="20" y="244.5">40°N</text>
<text x="20" y="331.3">38°N</text>
<text x="20" y="418.1">36°N</text>
<text x="20" y="504.9">34°N</text>
<text x="20" y="591.7">32°N</text>
<text x="20" y="678.5">30°N</text>
<text x="20" y="765.3">28°N</text>
</g><g font-size="27" text-anchor="middle">
<text x="281.6" y="857" textLength="75.6" lengthAdjust="spacingAndGlyphs">115°W</text>
<text x="471.5" y="857" textLength="75.6" lengthAdjust="spacingAndGlyphs">110°W</text>
<text x="658.2" y="857" textLength="75.6" lengthAdjust="spacingAndGlyphs">105°W</text>
<text x="843.7" y="857" textLength="75.6" lengthAdjust="spacingAndGlyphs">100°W</text>
</g>
<rect x="187.30" y="889.4" width="30.55" height="40.8" fill="#ffffff"/>
<rect x="217.55" y="889.4" width="30.55" height="40.8" fill="#dff1fb"/>
<rect x="247.79" y="889.4" width="30.55" height="40.8" fill="#bde5f6"/>
<rect x="278.04" y="889.4" width="30.55" height="40.8" fill="#9dd7f5"/>
<rect x="308.28" y="889.4" width="30.55" height="40.8" fill="#82bde6"/>
<rect x="338.53" y="889.4" width="30.55" height="40.8" fill="#68a8dc"/>
<rect x="368.77" y="889.4" width="30.55" height="40.8" fill="#4b89c8"/>
<rect x="399.02" y="889.4" width="30.55" height="40.8" fill="#479a9b"/>
<rect x="429.26" y="889.4" width="30.55" height="40.8" fill="#48a56e"/>
<rect x="459.51" y="889.4" width="30.55" height="40.8" fill="#4cb748"/>
<rect x="489.75" y="889.4" width="30.55" height="40.8" fill="#84c54e"/>
<rect x="520.00" y="889.4" width="30.55" height="40.8" fill="#c4d75a"/>
<rect x="550.25" y="889.4" width="30.55" height="40.8" fill="#f8e65a"/>
<rect x="580.49" y="889.4" width="30.55" height="40.8" fill="#f8be4c"/>
<rect x="610.74" y="889.4" width="30.55" height="40.8" fill="#f7983d"/>
<rect x="640.98" y="889.4" width="30.55" height="40.8" fill="#f36b2b"/>
<rect x="671.23" y="889.4" width="30.55" height="40.8" fill="#e9542c"/>
<rect x="701.47" y="889.4" width="30.55" height="40.8" fill="#e03b2a"/>
<rect x="731.72" y="889.4" width="30.55" height="40.8" fill="#d42329"/>
<rect x="761.96" y="889.4" width="30.55" height="40.8" fill="#be1e2a"/>
<rect x="792.21" y="889.4" width="30.55" height="40.8" fill="#ab1b24"/>
<rect x="822.45" y="889.4" width="30.55" height="40.8" fill="#94161d"/>
<path d="M217.55 889.4V930.2M247.79 889.4V930.2M278.04 889.4V930.2M308.28 889.4V930.2M338.53 889.4V930.2M368.77 889.4V930.2M399.02 889.4V930.2M429.26 889.4V930.2M459.51 889.4V930.2M489.75 889.4V930.2M520.00 889.4V930.2M550.25 889.4V930.2M580.49 889.4V930.2M610.74 889.4V930.2M640.98 889.4V930.2M671.23 889.4V930.2M701.47 889.4V930.2M731.72 889.4V930.2M761.96 889.4V930.2M792.21 889.4V930.2M822.45 889.4V930.2" stroke="#222" stroke-width="1"/>
<rect x="187.3" y="889.4" width="665.4" height="40.8" fill="none" stroke="#777" stroke-width="1"/>
<g font-size="27" text-anchor="middle">
<text x="217.5" y="959.6">0</text>
<text x="278.0" y="959.6">4</text>
<text x="338.5" y="959.6">8</text>
<text x="399.0" y="959.6">12</text>
<text x="459.5" y="959.6">16</text>
<text x="520.0" y="959.6">20</text>
<text x="580.5" y="959.6">30</text>
<text x="641.0" y="959.6">40</text>
<text x="701.5" y="959.6">60</text>
<text x="762.0" y="959.6">80</text>
<text x="822.5" y="959.6">100</text>
</g>
<g id="logo">
<path d="M924 918.1 C926 915 928 913.3 929.8 912.3 C932 910.3 934.5 909.2 936.9 908.2 C940 906.8 943 905.8 945.1 904.6 C947.5 903.3 949.2 902 950.4 900.5 C949.8 902.5 948.8 904 947.4 905.2 C945.5 906.8 943.5 907.8 941.6 908.75 C939 909.9 936.8 910.7 934.5 911.7 C931.8 913 929.5 914.3 927.5 915.8 C926 916.8 925 917.7 924 918.7Z" fill="#f6b832"/>
<path d="M922.2 922.2 C924 920.2 926.3 918.4 928.7 917 C931.4 915.6 934 914.7 936.9 914 C939.3 913.3 941.7 912.5 943.9 911.7 C943.6 913 943.2 913.9 942.7 914.6 C940.3 915.3 938 915.8 935.7 916.4 C933.2 917.2 930.9 918.2 928.7 919.3 C926.6 920.4 924.6 921.8 922.8 923.4Z" fill="#006633"/>
<path d="M921.1 925.2 C923.1 923.9 925.3 922.9 927.5 922.2 C929.5 921.5 931.4 921 933.4 920.7 C935 920.4 936.5 920.2 938 920.2 C937.7 920.9 937.3 921.6 936.9 922.2 C935 922.5 933 922.9 931 923.4 C929 924 927.1 924.6 925.2 925.2 C923.9 925.6 922.6 926 921.4 926.3Z" fill="#006633"/>
<text x="899.8" y="953.8" style="font-family:'Liberation Serif',serif;font-weight:bold;font-size:44.5px;fill:#006633" textLength="29" lengthAdjust="spacingAndGlyphs">M</text>
<text x="929.5" y="953.8" style="font-family:'Liberation Serif',serif;font-weight:bold;font-size:25px;fill:#006633" textLength="69" lengthAdjust="spacingAndGlyphs">ASON</text>
<text x="938" y="932.8" style="font-family:'Liberation Sans',sans-serif;font-weight:bold;font-size:10.4px;fill:#006633" textLength="60.5" lengthAdjust="spacing">GEORGE</text>
<text x="901" y="965" style="font-family:'Liberation Sans',sans-serif;font-weight:bold;font-size:8.3px;fill:#006633" textLength="97.5" lengthAdjust="spacing">UNIVERSITY</text>
</g>

</svg>
</body></html>
